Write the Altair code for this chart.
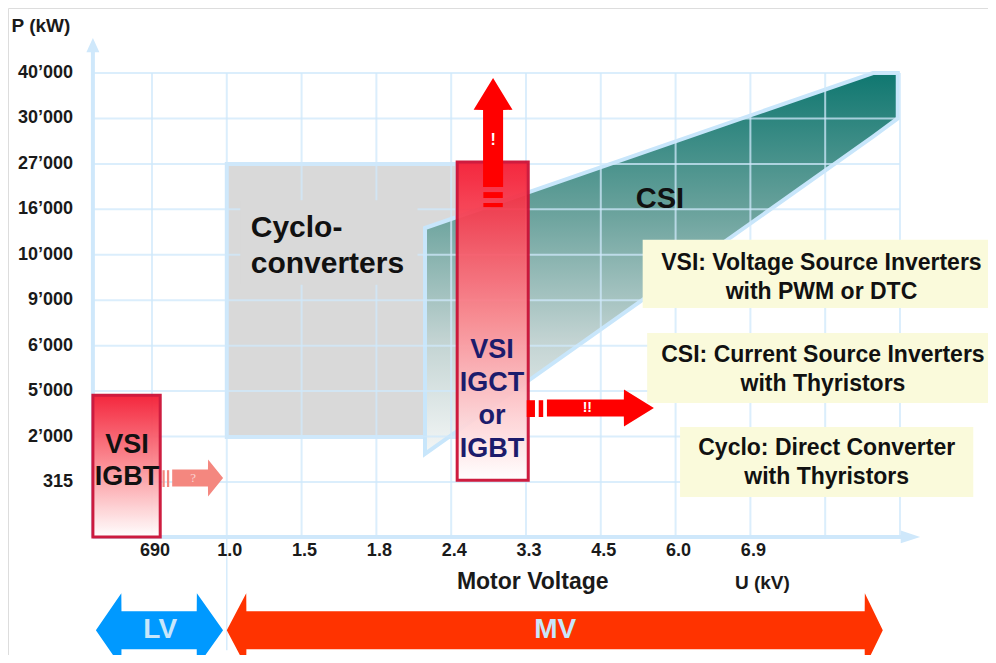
import altair as alt
import pandas as pd

FONT = "Liberation Sans"

# ---------------- axis ticks (index positions on the schematic grid) ----------------
x_tick_labels = ["690", "1.0", "1.5", "1.8", "2.4", "3.3", "4.5", "6.0", "6.9"]
x_tick_index = [1, 2, 3, 4, 5, 6, 7, 8, 9]
y_tick_labels = ["315", "2’000", "5’000", "6’000", "9’000", "10’000",
                 "16’000", "27’000", "30’000", "40’000"]
y_tick_index = [1, 2, 3, 4, 5, 6, 7, 8, 9, 10]
grid_cols = [1, 2, 3, 4, 5, 6, 7, 8, 9, 10, 11]
grid_rows = [1, 2, 3, 4, 5, 6, 7, 8, 9, 10]
axis_u, axis_v = 0.21, -0.21          # where the two axes cross
grid_right, grid_top = 11, 10

# ---------------- regions ----------------
cyclo_u = [2.0, 5.08]
cyclo_v = [1.99, 8.0]
cyclo_label_bg_u = [2.18, 4.55]
cyclo_label_bg_v = [5.34, 7.2]

csi_u = [4.65, 10.64, 10.97]
csi_top = [6.59, 10.0, 10.0]
csi_bottom = [1.62, 8.6, 9.0]

vsi_names = ["VSI IGCT or IGBT", "VSI IGBT"]
vsi_u0 = [5.08, 0.21]
vsi_u1 = [6.03, 1.11]
vsi_v0 = [1.04, -0.21]
vsi_v1 = [8.04, 2.91]

# legend boxes
legend_names = ["VSI", "CSI", "Cyclo"]
legend_u0 = [7.56, 7.62, 8.06]
legend_u1 = [12.2, 12.2, 11.98]
legend_v0 = [4.83, 2.74, 0.67]
legend_v1 = [6.33, 4.28, 2.21]

# ---------------- arrows ----------------
# horizontal arrows: name, left tip, left head base, right head base, right tip, centre, shaft half, head half
h_arrows = [
    ("pink", None, 1.27, 1.75, 1.95, 1.09, 0.187, 0.407),
    ("red", None, 6.28, 7.31, 7.71, 2.63, 0.187, 0.407),
    ("LV", 0.25, 0.59, 1.60, 1.95, -2.26, 0.418, 0.814),
    ("MV", 2.0, 2.26, 10.53, 10.77, -2.26, 0.418, 0.814),
    ("xaxis", None, 11.01, 11.01, 11.27, -0.21, 0.0, 0.14),
]
h_colors = {"pink": "#f4877f", "red": "#ff0000", "LV": "#0099ff",
            "MV": "#ff3300", "xaxis": "#cfe8fb"}
# vertical arrows: name, tail, head base, tip, centre u, shaft half, head half
v_arrows = [
    ("redup", 7.49, 9.19, 9.89, 5.56, 0.134, 0.26),
    ("yaxis", 10.46, 10.46, 10.77, 0.21, 0.0, 0.087),
]
v_colors = {"redup": "#ff0000", "yaxis": "#cfe8fb"}

# stripes behind the arrows: u0, u1, v0, v1, colour
stripe_u0 = [1.14, 1.20, 6.01, 6.17, 5.43, 5.43]
stripe_u1 = [1.17, 1.23, 6.12, 6.23, 5.69, 5.69]
stripe_v0 = [0.89, 0.89, 2.43, 2.43, 7.25, 7.05]
stripe_v1 = [1.26, 1.26, 2.80, 2.80, 7.38, 7.14]
stripe_color = ["#f4877f", "#f4877f", "#ff0000", "#ff0000", "#ff0000", "#ff0000"]

EPS = 0.002

# ---------------- scales ----------------
X_DOMAIN = [-0.925, -0.925 + 980 / 74.8]
Y_DOMAIN = [1 - 173 / 45.44, 1 + 474 / 45.44]
xs = alt.Scale(domain=X_DOMAIN, nice=False, zero=False)
ys = alt.Scale(domain=Y_DOMAIN, nice=False, zero=False)


def X(f, **kw):
    return alt.X(f, type="quantitative", scale=xs, axis=None, **kw)


def Y(f, **kw):
    return alt.Y(f, type="quantitative", scale=ys, axis=None, **kw)


layers = []

# cyclo-converter region
cyclo_df = pd.DataFrame({"u0": [cyclo_u[0]], "u1": [cyclo_u[1]],
                         "v0": [cyclo_v[0]], "v1": [cyclo_v[1]]})
layers.append(alt.Chart(cyclo_df).mark_rect(fill="#d9d9d9", stroke="#cfe8fb", strokeWidth=4)
              .encode(x=X("u0"), x2="u1", y=Y("v0"), y2="v1"))

# CSI region
csi_grad = alt.Gradient(gradient="linear",
                        stops=[alt.GradientStop(color="#0f7770", offset=0),
                               alt.GradientStop(color="#66a09a", offset=0.35),
                               alt.GradientStop(color="#c2d3d2", offset=0.7),
                               alt.GradientStop(color="#f3f6f6", offset=1)],
                        x1=0, x2=0, y1=0, y2=1)
csi_df = pd.DataFrame({"u": csi_u, "top": csi_top, "bot": csi_bottom})
layers.append(alt.Chart(csi_df).mark_area(fill=csi_grad, stroke="#c8e6fb", strokeWidth=4,
                                          orient="vertical", interpolate="linear")
              .encode(x=X("u"), y=Y("top", stack=None), y2="bot"))

# grid lines
gv = pd.DataFrame({"u": grid_cols, "v0": axis_v, "v1": grid_top})
gh = pd.DataFrame({"v": grid_rows, "u0": axis_u, "u1": grid_right})
layers.append(alt.Chart(gv).mark_rule(color="#cfe8fb", strokeWidth=2, opacity=0.75)
              .encode(x=X("u"), y=Y("v0"), y2="v1"))
layers.append(alt.Chart(gh).mark_rule(color="#cfe8fb", strokeWidth=2, opacity=0.75)
              .encode(y=Y("v"), x=X("u0"), x2="u1"))
# 1.0 kV boundary below the axis
gb = pd.DataFrame({"u": [2], "v0": [-2.7], "v1": [axis_v]})
layers.append(alt.Chart(gb).mark_rule(color="#d6ecfc", strokeWidth=1.5)
              .encode(x=X("u"), y=Y("v0"), y2="v1"))

# background behind the cyclo label
cbg = pd.DataFrame({"u0": [cyclo_label_bg_u[0]], "u1": [cyclo_label_bg_u[1]],
                    "v0": [cyclo_label_bg_v[0]], "v1": [cyclo_label_bg_v[1]]})
layers.append(alt.Chart(cbg).mark_rect(fill="#d9d9d9")
              .encode(x=X("u0"), x2="u1", y=Y("v0"), y2="v1"))

# axes
ax = pd.DataFrame({"u0": [axis_u], "u1": [11.02], "v": [axis_v]})
ay = pd.DataFrame({"u": [axis_u], "v0": [axis_v], "v1": [10.47]})
layers.append(alt.Chart(ax).mark_rule(color="#cfe8fb", strokeWidth=4)
              .encode(x=X("u0"), x2="u1", y=Y("v")))
layers.append(alt.Chart(ay).mark_rule(color="#cfe8fb", strokeWidth=4)
              .encode(x=X("u"), y=Y("v0"), y2="v1"))

# VSI boxes
red_grad = alt.Gradient(gradient="linear",
                        stops=[alt.GradientStop(color="#f41c34", offset=0),
                               alt.GradientStop(color="#fb8c93", offset=0.5),
                               alt.GradientStop(color="#ffffff", offset=1)],
                        x1=0, x2=0, y1=0, y2=1)
for n, a, b, c, d in zip(vsi_names, vsi_u0, vsi_u1, vsi_v0, vsi_v1):
    df = pd.DataFrame({"name": [n], "u0": [a], "u1": [b], "v0": [c], "v1": [d]})
    layers.append(alt.Chart(df).mark_rect(fill=red_grad, stroke="#cc1035", strokeWidth=3, opacity=0.95)
                  .encode(x=X("u0"), x2="u1", y=Y("v0"), y2="v1"))

# legend boxes
leg = pd.DataFrame({"name": legend_names, "u0": legend_u0, "u1": legend_u1,
                    "v0": legend_v0, "v1": legend_v1})
layers.append(alt.Chart(leg).mark_rect(fill="#fafadb")
              .encode(x=X("u0"), x2="u1", y=Y("v0"), y2="v1"))

# stripes
for a, b, c, d, col in zip(stripe_u0, stripe_u1, stripe_v0, stripe_v1, stripe_color):
    df = pd.DataFrame({"u0": [a], "u1": [b], "v0": [c], "v1": [d]})
    layers.append(alt.Chart(df).mark_rect(color=col)
                  .encode(x=X("u0"), x2="u1", y=Y("v0"), y2="v1"))

# horizontal arrows as polygons (points sorted along x)
for name, ltip, lhead, rhead, rtip, c, sh, hh in h_arrows:
    pts = []
    if ltip is not None:
        pts += [(ltip, c, c), (lhead, c + hh, c - hh), (lhead + EPS, c + sh, c - sh)]
    elif sh > 0:
        pts += [(lhead, c + sh, c - sh)]
    if sh > 0:
        pts += [(rhead - EPS, c + sh, c - sh)]
    pts += [(rhead, c + hh, c - hh), (rtip, c, c)]
    df = pd.DataFrame({"u": [p[0] for p in pts], "top": [p[1] for p in pts],
                       "bot": [p[2] for p in pts]})
    layers.append(alt.Chart(df).mark_area(orient="vertical", interpolate="linear",
                                          color=h_colors[name])
                  .encode(x=X("u"), y=Y("top", stack=None), y2="bot"))

for name, tail, head, tip, c, sh, hh in v_arrows:
    pts = []
    if sh > 0:
        pts += [(tail, c - sh, c + sh), (head - EPS, c - sh, c + sh)]
    pts += [(head, c - hh, c + hh), (tip, c, c)]
    df = pd.DataFrame({"v": [p[0] for p in pts], "l": [p[1] for p in pts],
                       "r": [p[2] for p in pts]})
    layers.append(alt.Chart(df).mark_area(orient="horizontal", interpolate="linear",
                                          color=v_colors[name])
                  .encode(y=Y("v"), x=X("l", stack=None), x2="r"))


# ---------------- text ----------------
def text_layer(t, u, v, size, color, align="center", weight="bold", font=FONT):
    df = pd.DataFrame({"t": t, "u": u, "v": v})
    return (alt.Chart(df)
            .mark_text(fontSize=size, color=color, align=align, baseline="middle",
                       fontWeight=weight, font=font)
            .encode(x=X("u"), y=Y("v"), text="t:N"))


layers.append(text_layer(y_tick_labels, [-0.056] * len(y_tick_labels), y_tick_index, 18, "#1a1a1a", align="right"))
layers.append(text_layer(x_tick_labels, [p + 0.04 for p in x_tick_index], [-0.518] * len(x_tick_labels), 18, "#1a1a1a"))
layers.append(text_layer(["P (kW)"], [-0.484], [11.035], 19, "#1a1a1a"))
layers.append(text_layer(["Motor Voltage"], [6.09], [-1.20], 23, "#1a1a1a"))
layers.append(text_layer(["U (kV)"], [9.16], [-1.22], 19, "#1a1a1a"))
layers.append(text_layer(["Cyclo-", "converters"], [2.32, 2.32], [6.59, 5.80], 30, "#111111", align="left"))
layers.append(text_layer(["CSI"], [7.79], [7.23], 29, "#111111"))
layers.append(text_layer(["VSI", "IGCT", "or", "IGBT"], [5.545] * 4, [3.905, 3.18, 2.45, 1.73], 27, "#1c1c6c"))
layers.append(text_layer(["VSI", "IGBT"], [0.666, 0.666], [1.81, 1.11], 27, "#111111"))
layers.append(text_layer(["VSI: Voltage Source Inverters", "with PWM or DTC"], [9.95, 9.95], [5.82, 5.18], 23, "#111111"))
layers.append(text_layer(["CSI: Current Source Inverters", "with Thyristors"], [9.97, 9.97], [3.79, 3.16], 23, "#111111"))
layers.append(text_layer(["Cyclo: Direct Converter", "with Thyristors"], [10.02, 10.02], [1.75, 1.11], 23, "#111111"))
layers.append(text_layer(["!"], [5.56], [8.53], 16, "#ffffff"))
layers.append(text_layer(["!!"], [6.82], [2.63], 14, "#ffffff"))
layers.append(text_layer(["?"], [1.55], [1.09], 13, "#fbd0d0", weight="normal", font="Liberation Serif"))
layers.append(text_layer(["LV", "MV"], [1.11, 6.39], [-2.26, -2.26], 28, "#c8e6fa"))

chart = (alt.layer(*layers)
         .properties(width=980, height=647, padding=0,
                     autosize=alt.AutoSizeParams(type="none"))
         .configure_view(stroke=None)
         .configure(background="white"))

chart.save("out.html", embed_options={"renderer": "svg", "actions": False})
